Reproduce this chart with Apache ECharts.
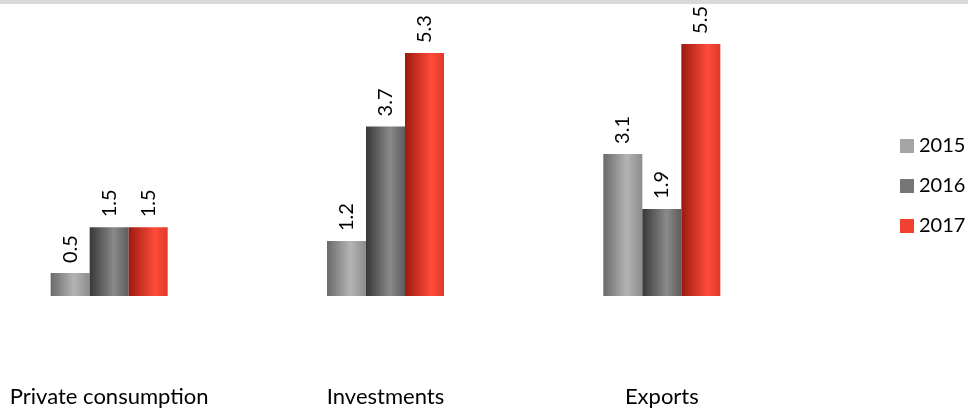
<!DOCTYPE html>
<html>
<head>
<meta charset="utf-8">
<script src="https://cdn.jsdelivr.net/npm/echarts@6/dist/echarts.min.js"></script>
<style>
  html, body { margin: 0; padding: 0; background: #fff; }
  #chart { width: 968px; height: 409px; }
</style>
</head>
<body>
<div id="chart"></div>
<script>
// Real growth contributions by component, per year
const categories = ['Private consumption', 'Investments', 'Exports'];
const years = ['2015', '2016', '2017'];
const values2015 = [0.5, 1.2, 3.1];
const values2016 = [1.5, 3.7, 1.9];
const values2017 = [1.5, 5.3, 5.5];

const FONT = 'Lato, "Open Sans", sans-serif';

// Cylinder-like horizontal shading for each series
function shade(stops) {
  return {
    type: 'linear', x: 0, y: 0, x2: 1, y2: 0,
    colorStops: stops.map(([offset, color]) => ({ offset, color }))
  };
}
const seriesStyles = [
  { legend: '#a5a5a5', fill: shade([[0, '#6a6a6a'], [0.6, '#b4b4b4'], [1, '#8c8c8c']]) },
  { legend: '#767676', fill: shade([[0, '#383838'], [0.62, '#8a8a8a'], [1, '#5c5c5c']]) },
  { legend: '#f0402f', fill: shade([[0, '#9c1a10'], [0.68, '#ff4b3a'], [1, '#dc3a2a']]) }
];
const seriesValues = [values2015, values2016, values2017];

const chart = echarts.init(document.getElementById('chart'), null, { renderer: 'canvas' });

chart.setOption({
  animation: false,
  graphic: [{
    type: 'rect', left: 0, top: 0,
    shape: { width: 968, height: 4 },
    style: { fill: '#d9d9d9' }, silent: true
  }],
  legend: {
    orient: 'vertical',
    left: 900, top: 136,
    padding: 0,
    itemWidth: 14, itemHeight: 14, itemGap: 20,
    icon: 'rect',
    textStyle: { fontFamily: FONT, fontSize: 20, color: '#000' },
    data: years.map((y, i) => ({ name: y, itemStyle: { color: seriesStyles[i].legend } }))
  },
  grid: { left: -29, width: 829, top: 21, bottom: 113, outerBoundsMode: 'none', containLabel: false },
  xAxis: {
    type: 'category',
    data: categories,
    axisLine: { show: false },
    axisTick: { show: false },
    axisLabel: { margin: 90, fontFamily: FONT, fontSize: 22, color: '#000', interval: 0 }
  },
  yAxis: {
    type: 'value', min: 0, max: 6,
    show: false,
    splitLine: { show: false }
  },
  series: years.map((y, i) => ({
    name: y,
    type: 'bar',
    data: seriesValues[i],
    barWidth: 39,
    barGap: '0%',
    itemStyle: { color: seriesStyles[i].fill },
    label: {
      show: true,
      position: 'top',
      distance: 10,
      rotate: 90,
      align: 'left',
      verticalAlign: 'middle',
      fontFamily: FONT,
      fontSize: 20,
      color: '#000',
      formatter: p => p.value.toFixed(1)
    }
  }))
});
</script>
</body>
</html>
